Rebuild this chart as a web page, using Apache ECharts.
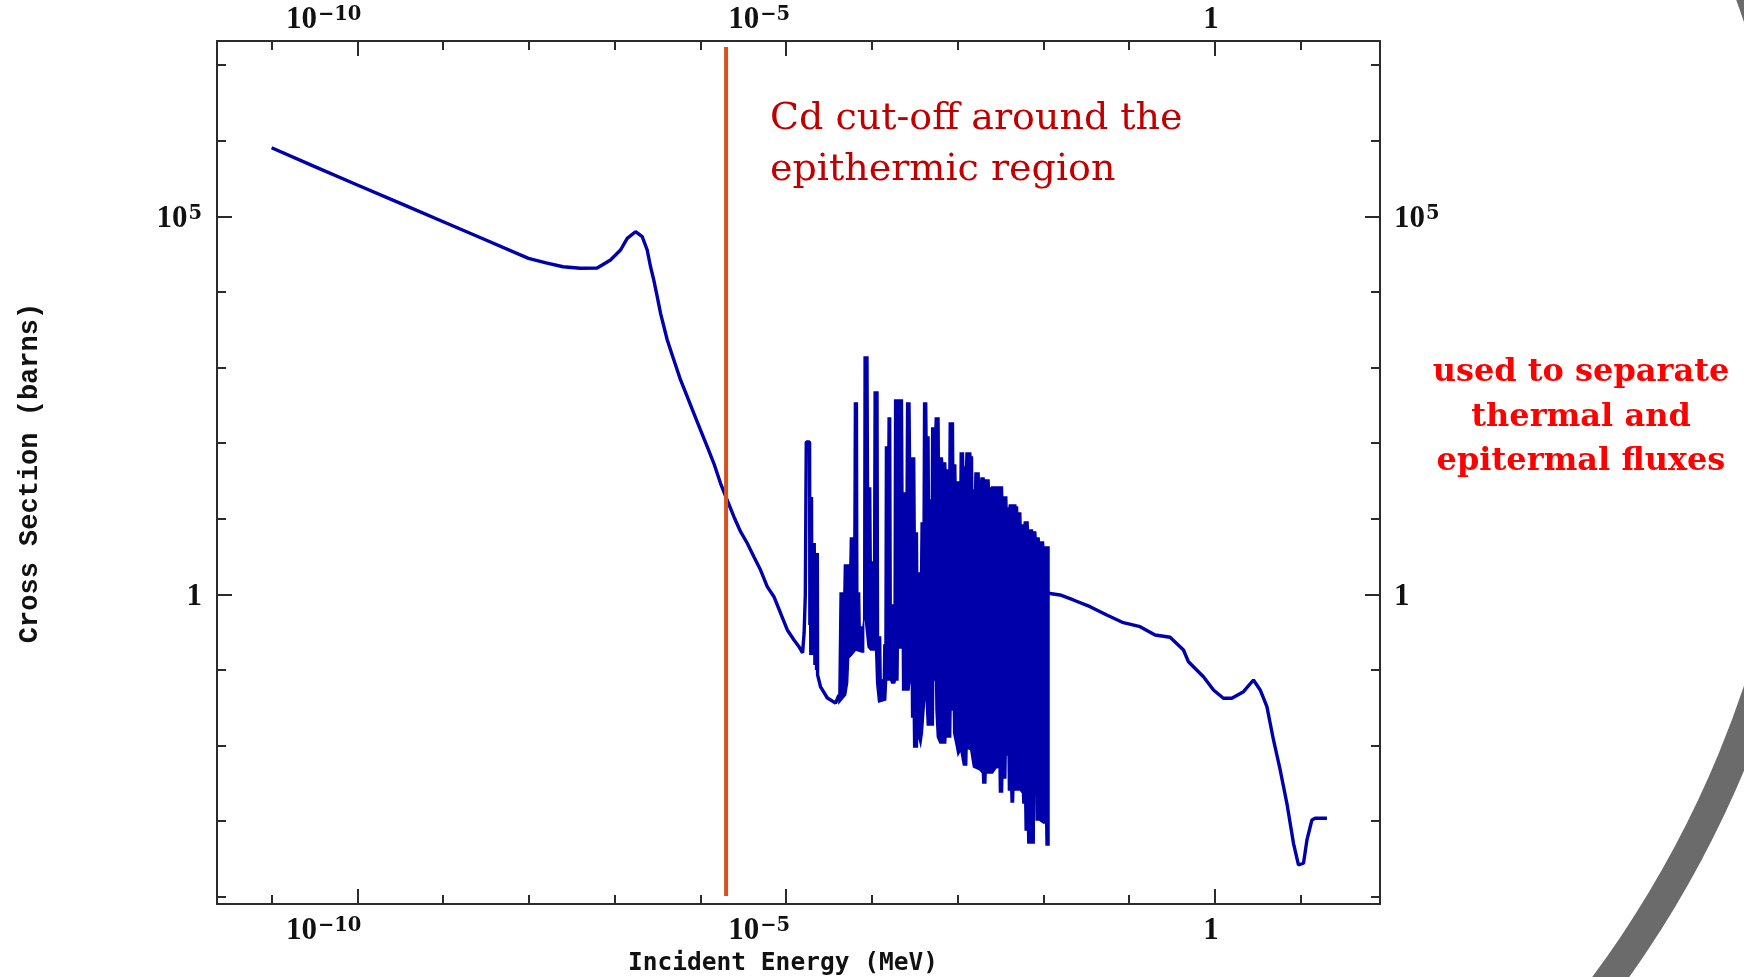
<!DOCTYPE html>
<html>
<head>
<meta charset="utf-8">
<title>Cd cross section</title>
<script src="https://cdn.jsdelivr.net/npm/echarts@6/dist/echarts.min.js"></script>
<style>
  html, body { margin: 0; padding: 0; background: #ffffff; }
  #chart { width: 1744px; height: 977px; }
</style>
</head>
<body>
<div id="chart"></div>
<script>
// All points are [log10(E / MeV), log10(sigma / barn)].

// 1/v region, the 0.18 eV resonance and the first resolved resonances
const thermalCurve = [
  [-11.0, 5.907], [-10.504, 5.660], [-10.0, 5.414], [-9.477, 5.161], [-8.985, 4.922],
  [-8.495, 4.684], [-8.005, 4.444], [-7.80, 4.385], [-7.601, 4.333], [-7.398, 4.312],
  [-7.203, 4.316], [-7.048, 4.422], [-6.931, 4.554], [-6.853, 4.709], [-6.756, 4.796],
  [-6.678, 4.730], [-6.620, 4.554], [-6.581, 4.333], [-6.543, 4.157], [-6.503, 3.937],
  [-6.464, 3.717], [-6.386, 3.364], [-6.309, 3.099], [-6.231, 2.835], [-6.153, 2.614],
  [-6.076, 2.394], [-5.998, 2.173], [-5.920, 1.952], [-5.843, 1.733], [-5.765, 1.468],
  [-5.687, 1.247], [-5.609, 1.026], [-5.531, 0.828], [-5.453, 0.675], [-5.376, 0.497],
  [-5.298, 0.321], [-5.220, 0.101], [-5.142, -0.032], [-5.064, -0.251], [-4.986, -0.472],
  [-4.908, -0.604], [-4.850, -0.693], [-4.808, -0.776], [-4.790, -0.512], [-4.776, -0.009],
  [-4.765, 2.015], [-4.726, 2.015], [-4.723, -0.406], [-4.718, 1.287], [-4.712, -0.803],
  [-4.704, 1.287], [-4.698, -0.803], [-4.689, 0.679], [-4.680, -0.803], [-4.672, 0.679],
  [-4.664, -0.935], [-4.655, 0.546], [-4.645, -1.001], [-4.636, 0.546], [-4.633, -1.067],
  [-4.598, -1.226], [-4.519, -1.372], [-4.423, -1.438], [-4.384, -1.332]
];

// Resonance region: upper edge of the resonance peaks
const resonanceTop = [
  [-4.384, -1.332], [-4.370, 0.017], [-4.326, 0.017], [-4.320, 0.388], [-4.256, 0.388],
  [-4.250, 0.745], [-4.209, 0.745], [-4.203, 2.530], [-4.169, 2.530], [-4.164, 0.017],
  [-4.143, 0.017], [-4.137, -0.433], [-4.111, -0.433], [-4.105, -0.763], [-4.096, -0.763],
  [-4.090, 3.139], [-4.046, 3.139], [-4.040, 1.406], [-4.014, 1.406], [-4.008, 0.427],
  [-3.979, 0.427], [-3.973, 2.676], [-3.929, 2.676], [-3.923, -0.565], [-3.898, -0.565],
  [-3.892, -1.134], [-3.866, -1.134], [-3.860, -0.671], [-3.847, -0.671], [-3.841, 1.948],
  [-3.812, 1.948], [-3.810, 2.332], [-3.781, 2.332], [-3.775, -0.142], [-3.740, -0.142],
  [-3.734, 2.570], [-3.644, 2.570], [-3.638, 1.340], [-3.600, 1.340], [-3.594, 2.530],
  [-3.556, 2.530], [-3.550, 1.802], [-3.501, 1.802], [-3.495, 0.811], [-3.469, 0.811],
  [-3.466, 0.282], [-3.431, 0.282], [-3.425, 0.943], [-3.402, 0.943], [-3.396, 2.530],
  [-3.361, 2.530], [-3.357, 2.081], [-3.334, 2.081], [-3.330, 1.247], [-3.306, 1.247],
  [-3.302, 2.200], [-3.264, 2.200], [-3.260, 2.332], [-3.217, 2.332], [-3.214, 1.802],
  [-3.178, 1.802], [-3.174, 1.737], [-3.139, 1.737], [-3.136, 1.644], [-3.101, 1.644],
  [-3.097, 2.266], [-3.049, 2.266], [-3.046, 1.710], [-3.022, 1.710], [-3.019, 1.485],
  [-2.972, 1.485], [-2.969, 1.869], [-2.932, 1.869], [-2.929, 1.684], [-2.906, 1.684],
  [-2.902, 1.869], [-2.847, 1.869], [-2.844, 1.816], [-2.827, 1.816], [-2.824, 1.379],
  [-2.801, 1.379], [-2.797, 1.604], [-2.750, 1.604], [-2.747, 1.485], [-2.731, 1.485],
  [-2.727, 1.538], [-2.692, 1.538], [-2.689, 1.512], [-2.634, 1.512], [-2.630, 1.406],
  [-2.606, 1.406], [-2.602, 1.419], [-2.477, 1.419], [-2.474, 1.287], [-2.427, 1.287],
  [-2.424, 1.142], [-2.400, 1.142], [-2.397, 1.181], [-2.322, 1.181], [-2.319, 1.155],
  [-2.302, 1.155], [-2.299, 1.075], [-2.264, 1.075], [-2.260, 0.917], [-2.225, 0.917],
  [-2.222, 0.956], [-2.179, 0.956], [-2.175, 0.851], [-2.127, 0.851], [-2.124, 0.824],
  [-2.089, 0.824], [-2.085, 0.745], [-2.050, 0.745], [-2.047, 0.692], [-1.999, 0.692],
  [-1.995, 0.626], [-1.934, 0.626]
];

// Resonance region: lower edge between the peaks
const resonanceBottom = [
  [-4.384, -1.438], [-4.306, -1.332], [-4.283, -1.173], [-4.271, -0.843], [-4.236, -0.803],
  [-4.189, -0.737], [-4.119, -0.763], [-4.108, -0.472], [-4.084, -0.247], [-4.044, -0.697],
  [-4.014, -0.737], [-3.956, -0.737], [-3.944, -1.173], [-3.921, -1.425], [-3.839, -1.398],
  [-3.828, -1.134], [-3.781, -1.134], [-3.769, -1.173], [-3.734, -1.173], [-3.723, -1.134],
  [-3.696, -1.134], [-3.692, -0.710], [-3.644, -0.710], [-3.641, -1.266], [-3.567, -1.266],
  [-3.559, -1.173], [-3.539, -1.173], [-3.536, -1.623], [-3.516, -1.623], [-3.512, -2.020],
  [-3.469, -2.020], [-3.466, -1.835], [-3.431, -1.993], [-3.411, -1.835], [-3.392, -1.530],
  [-3.373, -1.226], [-3.353, -1.729], [-3.283, -1.729], [-3.279, -1.134], [-3.256, -1.134],
  [-3.252, -1.530], [-3.236, -1.888], [-3.206, -1.967], [-3.139, -1.967], [-3.136, -1.888],
  [-3.081, -1.888], [-3.077, -1.530], [-3.049, -1.530], [-3.046, -1.835], [-3.022, -1.967],
  [-2.995, -2.125], [-2.964, -2.059], [-2.932, -2.258], [-2.894, -2.258], [-2.890, -2.033],
  [-2.847, -2.059], [-2.815, -2.284], [-2.738, -2.324], [-2.710, -2.364], [-2.706, -2.496],
  [-2.671, -2.496], [-2.668, -2.364], [-2.593, -2.364], [-2.554, -2.298], [-2.516, -2.284],
  [-2.512, -2.615], [-2.476, -2.615], [-2.473, -2.430], [-2.438, -2.430], [-2.434, -2.125],
  [-2.411, -2.125], [-2.407, -2.589], [-2.379, -2.589], [-2.376, -2.747], [-2.348, -2.747],
  [-2.344, -2.589], [-2.271, -2.589], [-2.243, -2.628], [-2.239, -2.760], [-2.216, -2.760],
  [-2.212, -3.118], [-2.184, -3.118], [-2.181, -3.290], [-2.107, -3.290], [-2.104, -2.589],
  [-2.087, -2.589], [-2.084, -2.985], [-2.049, -2.985], [-1.999, -3.025], [-1.972, -3.025],
  [-1.968, -3.316], [-1.934, -3.316]
];

// Unresolved / fast region up to 20 MeV
const fastCurve = [
  [-1.942, 0.013], [-1.805, -0.009], [-1.650, -0.075], [-1.455, -0.164], [-1.260, -0.274],
  [-1.067, -0.376], [-0.872, -0.429], [-0.697, -0.538], [-0.522, -0.569], [-0.366, -0.737],
  [-0.308, -0.892], [-0.133, -1.090], [-0.016, -1.266], [0.100, -1.376], [0.198, -1.376],
  [0.334, -1.288], [0.450, -1.134], [0.529, -1.266], [0.607, -1.487], [0.684, -1.927],
  [0.762, -2.324], [0.840, -2.765], [0.917, -3.294], [0.975, -3.581], [1.034, -3.558],
  [1.074, -3.250], [1.132, -2.985], [1.170, -2.963], [1.307, -2.963]
];

// Cd cut-off marker: energy and vertical extent
const cdCutoffEnergy = [-5.70];
const cdCutoffSpan = [7.24, -3.99];

// Decade ticks
const xDecades = [-11, -10, -9, -8, -7, -6, -5, -4, -3, -2, -1, 0, 1];
const xLabelled = [-10, -5, 0];
const yDecades = [-4, -3, -2, -1, 0, 1, 2, 3, 4, 5, 6, 7];
const yLabelled = [0, 5];

const X_MIN = -11.637, X_MAX = 1.926;
const Y_MIN = -4.097, Y_MAX = 7.319;

const INK = '#2b2b2b';
const CURVE = '#0000aa';

function decadeLabel(v) {
  if (v === 0) return '{b|1}';
  const exp = v < 0 ? '\u2212' + (-v) : String(v);
  return '{b|10}{s|' + exp + '}';
}
const labelRich = {
  b: { fontFamily: '"Liberation Serif"', fontWeight: 'bold', fontSize: 31, lineHeight: 32, color: '#111' },
  s: { fontFamily: '"DejaVu Serif"', fontWeight: 'bold', fontSize: 19.5, lineHeight: 32, color: '#111', verticalAlign: 'top', padding: [1, 0, 0, 1] }
};

function xAxisPair(position, labelMargin) {
  return [
    {
      type: 'value', position, min: X_MIN, max: X_MAX,
      axisLine: { show: true, onZero: false, lineStyle: { color: INK, width: 2 } },
      axisTick: { show: true, inside: true, length: 9, customValues: xDecades, lineStyle: { color: INK, width: 2 } },
      axisLabel: { show: false },
      splitLine: { show: false }
    },
    {
      type: 'value', position, min: X_MIN, max: X_MAX,
      axisLine: { show: false, onZero: false },
      axisTick: { show: true, inside: true, length: 15, customValues: xLabelled, lineStyle: { color: INK, width: 2 } },
      axisLabel: {
        show: true, customValues: xLabelled, margin: labelMargin, align: 'right',
        padding: [0, -4, 0, 0],
        formatter: decadeLabel, rich: labelRich
      },
      splitLine: { show: false }
    }
  ];
}

function yAxisPair(position, labelMargin) {
  return [
    {
      type: 'value', position, min: Y_MIN, max: Y_MAX,
      axisLine: { show: true, onZero: false, lineStyle: { color: INK, width: 2 } },
      axisTick: { show: true, inside: true, length: 9, customValues: yDecades, lineStyle: { color: INK, width: 2 } },
      axisLabel: { show: false },
      splitLine: { show: false }
    },
    {
      type: 'value', position, min: Y_MIN, max: Y_MAX,
      axisLine: { show: false, onZero: false },
      axisTick: { show: true, inside: true, length: 15, customValues: yLabelled, lineStyle: { color: INK, width: 2 } },
      axisLabel: {
        show: true, customValues: yLabelled, margin: labelMargin,
        padding: [6, 0, 0, 0],
        formatter: decadeLabel, rich: labelRich
      },
      splitLine: { show: false }
    }
  ];
}

const chart = echarts.init(document.getElementById('chart'), null, { renderer: 'canvas' });

chart.setOption({
  animation: false,
  backgroundColor: '#ffffff',
  grid: { left: 217, top: 41, width: 1163, height: 863, containLabel: false },
  xAxis: [...xAxisPair('bottom', 11), ...xAxisPair('top', 5)],
  yAxis: [...yAxisPair('left', 15), ...yAxisPair('right', 14)],
  series: [
    {
      name: 'resonances',
      type: 'custom',
      xAxisIndex: 0, yAxisIndex: 0,
      data: [resonanceTop[0]],
      z: 3,
      renderItem: function (params, api) {
        const upper = resonanceTop.map(p => api.coord(p));
        const lower = resonanceBottom.slice().reverse().map(p => api.coord(p));
        return {
          type: 'polygon',
          shape: { points: upper.concat(lower) },
          style: { fill: CURVE, stroke: CURVE, lineWidth: 1.5 }
        };
      }
    },
    {
      name: 'thermal',
      type: 'line', xAxisIndex: 0, yAxisIndex: 0,
      data: thermalCurve, symbol: 'none', z: 4,
      lineStyle: { color: CURVE, width: 3.4 }
    },
    {
      name: 'fast',
      type: 'line', xAxisIndex: 0, yAxisIndex: 0,
      data: fastCurve, symbol: 'none', z: 4,
      lineStyle: { color: CURVE, width: 3.4 }
    },
    {
      name: 'Cd cut-off',
      type: 'line', xAxisIndex: 0, yAxisIndex: 0,
      data: cdCutoffSpan.map(v => [cdCutoffEnergy[0], v]),
      symbol: 'none', z: 5,
      lineStyle: { color: '#d4501c', width: 4 }
    }
  ],
  graphic: [
    {
      type: 'ring', silent: true, z: 0,
      shape: { cx: 752, cy: 354, r: 1076, r0: 1046 },
      style: { fill: '#6b6b6b' }
    },
    {
      type: 'text', x: 30, y: 473, rotation: Math.PI / 2,
      style: {
        text: 'Cross Section (barns)', font: 'bold 27px "Liberation Mono"', fill: '#111',
        align: 'center', verticalAlign: 'middle', textAlign: 'center', textVerticalAlign: 'middle'
      }
    },
    {
      type: 'text', x: 783, y: 964,
      style: {
        text: 'Incident Energy (MeV)', font: 'bold 24.5px "DejaVu Sans Mono"', fill: '#111',
        align: 'center', verticalAlign: 'middle', textAlign: 'center', textVerticalAlign: 'middle'
      }
    },
    {
      type: 'text', x: 770, y: 94,
      style: {
        text: 'Cd cut-off around the\nepithermic region', font: '38px "DejaVu Serif"', fill: '#c00000',
        lineHeight: 51, align: 'left', verticalAlign: 'top', textAlign: 'left', textVerticalAlign: 'top'
      }
    },
    {
      type: 'text', x: 1581, y: 350,
      style: {
        text: 'used to separate\nthermal and\nepitermal fluxes', font: 'bold 32px "DejaVu Serif"', fill: '#ff0000',
        lineHeight: 44.8, align: 'center', verticalAlign: 'top', textAlign: 'center', textVerticalAlign: 'top'
      }
    }
  ]
});
</script>
</body>
</html>
